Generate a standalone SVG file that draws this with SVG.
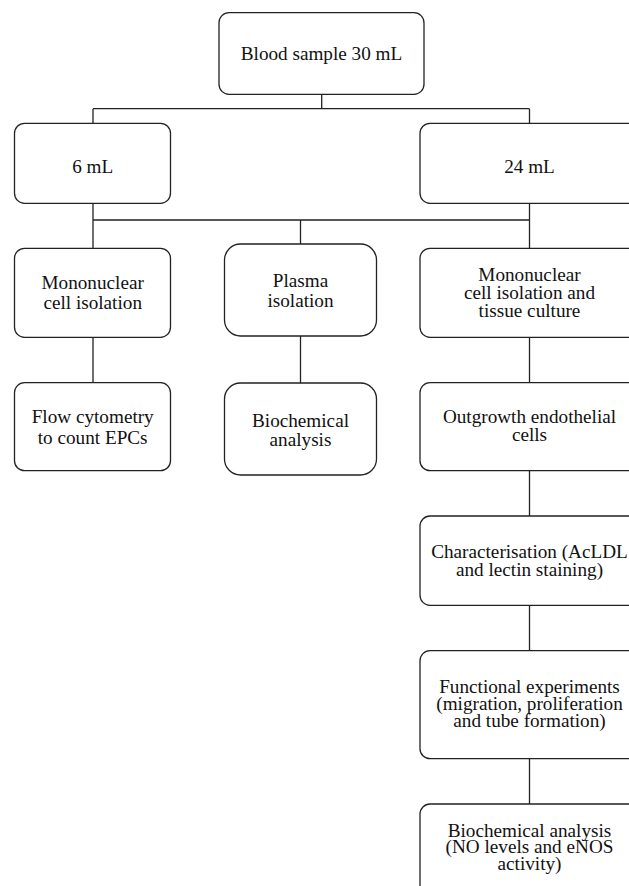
<svg xmlns="http://www.w3.org/2000/svg" width="629" height="886" viewBox="0 0 629 886">
<style>
.box{fill:#fff;stroke:#222;stroke-width:1.3}
.ln{fill:none;stroke:#222;stroke-width:1.3}
text{font-family:"Liberation Serif","Times New Roman",serif;font-size:19.2px;fill:#111;text-anchor:middle}
</style>
<rect width="629" height="886" fill="#fff"/>
<g id="connectors" class="ln">
<path d="M321.7 94.3V108.7M93 108.7H529.5M93 108.7V123.3M529.5 108.7V123.3"/>
<path d="M93 203.3V248.3M529.5 203.3V248.3M93 220H529.5M300.5 220V244"/>
<path d="M93 337.3V382.7M300.5 336V383M529.5 337.3V382.7M529.5 470.7V516M529.5 605.3V650.7M529.5 758.7V804"/>
</g>
<g id="n_blood"><rect class="box" x="219" y="12.7" width="205" height="81.6" rx="10"/><text x="321.5" y="60">Blood sample 30 mL</text></g>
<g id="n_6ml"><rect class="box" x="14.5" y="123.3" width="156" height="80" rx="10"/><text x="92.7" y="173">6 mL</text></g>
<g id="n_24ml"><rect class="box" x="420" y="123.3" width="219" height="80" rx="10"/><text x="529.5" y="173">24 mL</text></g>
<g id="n_mono1"><rect class="box" x="14.5" y="248.3" width="156" height="89" rx="10"/><text x="92.7" y="289">Mononuclear</text><text x="92.7" y="309.3">cell isolation</text></g>
<g id="n_plasma"><rect class="box" x="224.5" y="244" width="152" height="92" rx="16"/><text x="300.5" y="286.5">Plasma</text><text x="300.5" y="306.5">isolation</text></g>
<g id="n_mono2"><rect class="box" x="420" y="248.3" width="219" height="89" rx="10"/><text x="529.5" y="281">Mononuclear</text><text x="529.5" y="299">cell isolation and</text><text x="529.5" y="316.7">tissue culture</text></g>
<g id="n_flow"><rect class="box" x="14.5" y="382.7" width="156" height="88" rx="10"/><text x="92.7" y="423.3">Flow cytometry</text><text x="92.7" y="444">to count EPCs</text></g>
<g id="n_bio1"><rect class="box" x="224.5" y="383" width="152" height="92" rx="16"/><text x="300.5" y="426.7">Biochemical</text><text x="300.5" y="446">analysis</text></g>
<g id="n_outgrowth"><rect class="box" x="420" y="382.7" width="219" height="88" rx="10"/><text x="529.5" y="423">Outgrowth endothelial</text><text x="529.5" y="440.7">cells</text></g>
<g id="n_char"><rect class="box" x="420" y="516" width="219" height="89.3" rx="10"/><text x="529.5" y="558">Characterisation (AcLDL</text><text x="529.5" y="576">and lectin staining)</text></g>
<g id="n_func"><rect class="box" x="420" y="650.7" width="219" height="108" rx="10"/><text x="529.5" y="693.3">Functional experiments</text><text x="529.5" y="710">(migration, proliferation</text><text x="529.5" y="726.7">and tube formation)</text></g>
<g id="n_bio2"><rect class="box" x="420" y="804" width="219" height="100" rx="10"/><text x="529.5" y="836.7">Biochemical analysis</text><text x="529.5" y="853.3">(NO levels and eNOS</text><text x="529.5" y="870">activity)</text></g>
</svg>
